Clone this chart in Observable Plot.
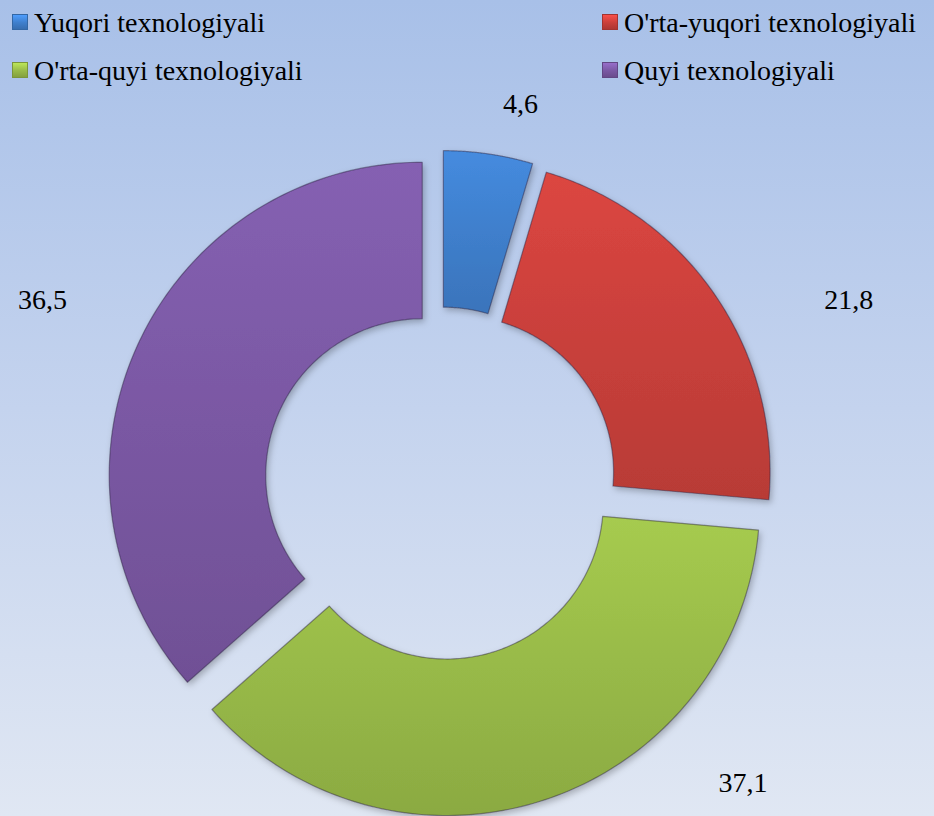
<!DOCTYPE html>
<html><head><meta charset="utf-8">
<script src="https://cdn.jsdelivr.net/npm/d3@7"></script>
<script src="https://cdn.jsdelivr.net/npm/@observablehq/plot@0.6"></script>
<style>
html,body{margin:0;padding:0;}
#wrap{position:relative;width:934px;height:816px;overflow:hidden;
  background:linear-gradient(to bottom,#a8c0e8 0%,#c4d3ee 50%,#e0e7f3 100%);
  font-family:"Times New Roman",Times,"Liberation Serif","DejaVu Serif",serif;}
#chart{position:absolute;left:0;top:0;}
.leg{position:absolute;height:45px;line-height:45px;font-size:28px;color:#000;white-space:nowrap;
  font-family:"Times New Roman",Times,"Liberation Serif","DejaVu Serif",serif;}
.sw{position:absolute;width:16px;height:16px;box-sizing:border-box;}
</style></head><body>
<div id="wrap"><div id="chart"></div><div id="legend"></div></div>
<script>
// ---- data ----
const categories = ["Yuqori texnologiyali", "O'rta-yuqori texnologiyali", "O'rta-quyi texnologiyali", "Quyi texnologiyali"];
const values = [4.6, 21.8, 37.1, 36.5];
const valueLabels = ["4,6", "21,8", "37,1", "36,5"];
const colors = ["#3f7fcc", "#c9403b", "#98ba48", "#7a58a3"];

// ---- layout (not data) ----
const W = 934, H = 816;
const CX = 440, CY = 483, PX = 313;      // centre in px and px per unit radius
const OUTER = 1, INNER = 0.5, EXPLODE = 0.064;
const SERIF = "Times New Roman, Times, Liberation Serif, DejaVu Serif, serif";
// label placement: angle (deg, clockwise from top) and radius in units
const labelPlace = [[11.9, 1.24], [65.8, 1.43], [134.7, 1.36], [294.7, 1.40]];

const pie = d3.pie().sort(null).value(d => d)(values);
const pts = [];
pie.forEach((p, i) => {
  const m = (p.startAngle + p.endAngle) / 2;
  const ox = EXPLODE * Math.sin(m), oy = EXPLODE * Math.cos(m);
  const N = 120;
  for (let k = 0; k <= N; k++) {
    const a = p.startAngle + (p.endAngle - p.startAngle) * k / N;
    pts.push({cat: categories[i], x: ox + OUTER * Math.sin(a), y: oy + OUTER * Math.cos(a)});
  }
  for (let k = N; k >= 0; k--) {
    const a = p.startAngle + (p.endAngle - p.startAngle) * k / N;
    pts.push({cat: categories[i], x: ox + INNER * Math.sin(a), y: oy + INNER * Math.cos(a)});
  }
  const s = pts.find(d => d.cat === categories[i]);
  pts.push({cat: categories[i], x: s.x, y: s.y});
});

const labels = valueLabels.map((t, i) => {
  const a = labelPlace[i][0] * Math.PI / 180, r = labelPlace[i][1];
  return {text: t, x: r * Math.sin(a), y: r * Math.cos(a)};
});

const gradIds = colors.map((c, i) => "sliceGrad" + i);

const svg = Plot.plot({
  width: W, height: H, margin: 0,
  style: {background: "transparent", overflow: "visible", fontFamily: SERIF},
  x: {domain: [-CX / PX, (W - CX) / PX], range: [0, W], axis: null},
  y: {domain: [-(H - CY) / PX, CY / PX], range: [H, 0], axis: null},
  color: {domain: categories, range: gradIds.map(id => `url(#${id})`)},
  marks: [
    Plot.line(pts, {x: "x", y: "y", z: "cat", fill: "cat", stroke: "rgba(40,30,60,0.45)", strokeWidth: 1.2, curve: "linear"}),
    Plot.text(labels, {x: "x", y: "y", text: "text", fontSize: 28, fontFamily: SERIF, fill: "#000"})
  ]
});

// gradients & shadow for a bevelled look
const sel = d3.select(svg);
const defs = sel.insert("defs", ":first-child");
colors.forEach((c, i) => {
  const g = defs.append("linearGradient").attr("id", gradIds[i]).attr("x1", 0).attr("y1", 0).attr("x2", 0).attr("y2", 1);
  g.append("stop").attr("offset", "0%").attr("stop-color", d3.color(c).brighter(0.25).formatHex());
  g.append("stop").attr("offset", "50%").attr("stop-color", c);
  g.append("stop").attr("offset", "100%").attr("stop-color", d3.color(c).darker(0.25).formatHex());
});
const f = defs.append("filter").attr("id", "shadow").attr("x", "-10%").attr("y", "-10%").attr("width", "130%").attr("height", "130%");
f.append("feDropShadow").attr("dx", 2).attr("dy", 3).attr("stdDeviation", 3).attr("flood-color", "#000").attr("flood-opacity", 0.25);
sel.selectAll("path").filter(function () { const fl = this.getAttribute("fill"); return fl && fl.startsWith("url"); })
  .attr("filter", "url(#shadow)");
sel.selectAll("text").style("font-family", SERIF);

document.getElementById("chart").appendChild(svg);

// legend
const legPos = [[12, 0], [602, 0], [12, 48], [602, 48]];
const leg = document.getElementById("legend");
categories.forEach((c, i) => {
  const [lx, ly] = legPos[i];
  const sw = document.createElement("div");
  sw.className = "sw";
  const col = d3.color(colors[i]);
  sw.style.left = lx + "px";
  sw.style.top = (ly + 14) + "px";
  sw.style.background = `linear-gradient(to bottom, ${col.brighter(0.6).formatHex()}, ${colors[i]} 55%, ${col.darker(0.4).formatHex()})`;
  sw.style.border = `1px solid ${col.darker(0.6).formatHex()}`;
  leg.appendChild(sw);
  const t = document.createElement("div");
  t.className = "leg";
  t.style.left = (lx + 22) + "px";
  t.style.top = ly + "px";
  t.textContent = c;
  leg.appendChild(t);
});
</script>
</body></html>
